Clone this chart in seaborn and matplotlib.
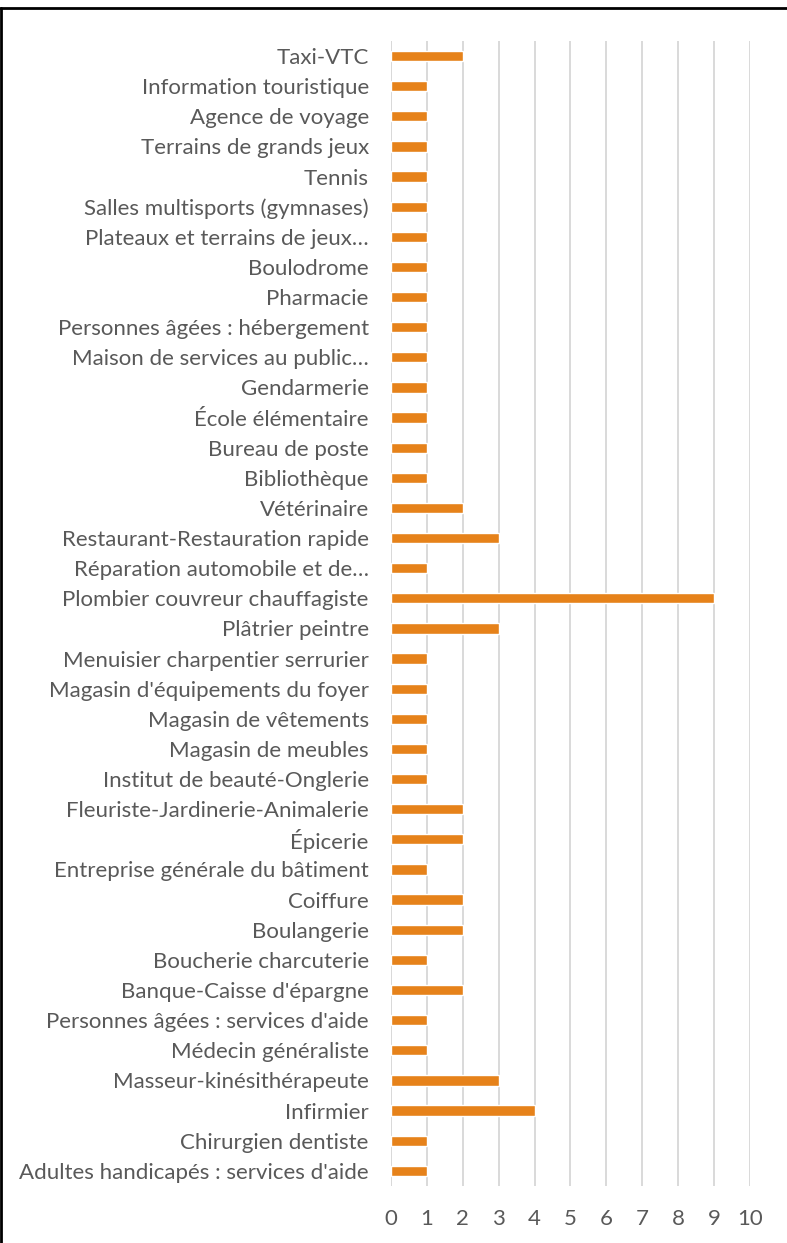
import matplotlib
matplotlib.use("Agg")
import matplotlib.pyplot as plt
from matplotlib.lines import Line2D
import seaborn as sns
import pandas as pd

categories = [
    "Taxi-VTC",
    "Information touristique",
    "Agence de voyage",
    "Terrains de grands jeux",
    "Tennis",
    "Salles multisports (gymnases)",
    "Plateaux et terrains de jeux…",
    "Boulodrome",
    "Pharmacie",
    "Personnes âgées : hébergement",
    "Maison de services au public…",
    "Gendarmerie",
    "École élémentaire",
    "Bureau de poste",
    "Bibliothèque",
    "Vétérinaire",
    "Restaurant-Restauration rapide",
    "Réparation automobile et de…",
    "Plombier couvreur chauffagiste",
    "Plâtrier peintre",
    "Menuisier charpentier serrurier",
    "Magasin d'équipements du foyer",
    "Magasin de vêtements",
    "Magasin de meubles",
    "Institut de beauté-Onglerie",
    "Fleuriste-Jardinerie-Animalerie",
    "Épicerie",
    "Entreprise générale du bâtiment",
    "Coiffure",
    "Boulangerie",
    "Boucherie charcuterie",
    "Banque-Caisse d'épargne",
    "Personnes âgées : services d'aide",
    "Médecin généraliste",
    "Masseur-kinésithérapeute",
    "Infirmier",
    "Chirurgien dentiste",
    "Adultes handicapés : services d'aide",
]
counts = [2, 1, 1, 1, 1, 1, 1, 1, 1, 1, 1, 1, 1, 1, 1, 2, 3, 1, 9, 3,
          1, 1, 1, 1, 1, 2, 2, 1, 2, 2, 1, 2, 1, 1, 3, 4, 1, 1]
x_ticks = list(range(0, 11))

df = pd.DataFrame({"categorie": categories, "nombre": counts})

sns.set_theme(style="white")
plt.rcParams["font.family"] = ["Lato", "DejaVu Sans"]

fig = plt.figure(figsize=(7.87, 12.43), dpi=100)
ax = fig.add_axes([0.4968, 0.046, 0.4562, 0.921])

sns.barplot(data=df, x="nombre", y="categorie", order=categories,
            color="#E6821A", saturation=1, width=0.34, ax=ax)

ax.set_xlim(0, 10)
ax.set_ylim(len(categories) - 0.5, -0.5)
ax.set_xticks(x_ticks)
ax.set_xticklabels([str(t) for t in x_ticks])
ax.grid(axis="x", color="#D9D9D9", linewidth=1.4)
ax.set_axisbelow(True)
for s in ax.spines.values():
    s.set_visible(False)
ax.axvline(0, color="#D9D9D9", linewidth=1.4, zorder=0)
ax.set_xlabel("")
ax.set_ylabel("")
ax.tick_params(axis="y", length=0, pad=16, labelsize=16, labelcolor="#595959")
ax.tick_params(axis="x", length=0, pad=17, labelsize=16, labelcolor="#595959")

# frame lines along top and left edges
fig.add_artist(Line2D([0, 1], [1 - 7.5 / 1243] * 2, transform=fig.transFigure,
                      color="black", linewidth=2))
fig.add_artist(Line2D([1 / 787] * 2, [0, 1 - 7.5 / 1243], transform=fig.transFigure,
                      color="black", linewidth=2))

fig.savefig("out.png", dpi=100, facecolor="white")
